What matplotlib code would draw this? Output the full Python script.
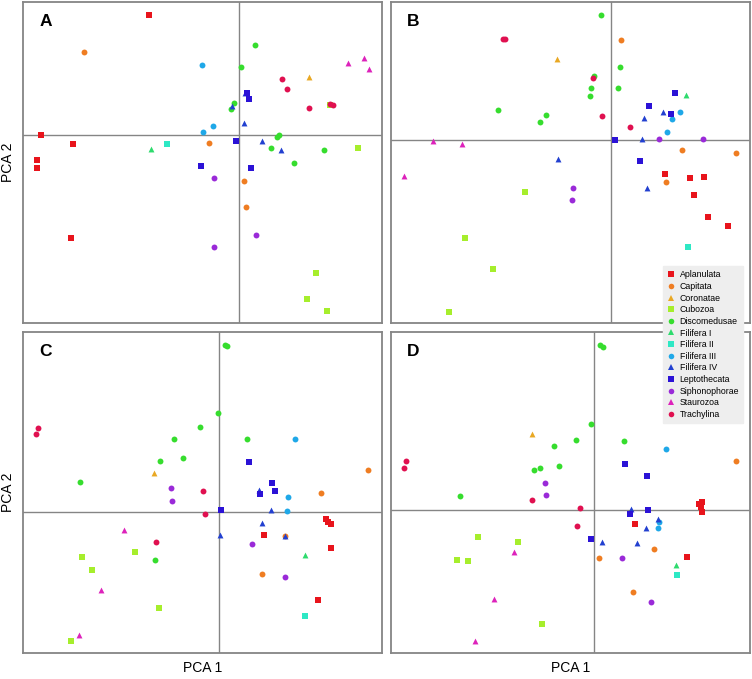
import matplotlib
matplotlib.use("Agg")
import matplotlib.pyplot as plt
from matplotlib.lines import Line2D

plt.rcParams["font.family"] = ["Liberation Sans", "DejaVu Sans"]

# species, legend order
GROUPS = ["Aplanulata", "Capitata", "Coronatae", "Cubozoa", "Discomedusae",
          "Filifera I", "Filifera II", "Filifera III", "Filifera IV",
          "Leptothecata", "Siphonophorae", "Staurozoa", "Trachylina"]
COLORS = ["#e8141c", "#ef7d22", "#e9a823", "#a6ee2c", "#36dd2e",
          "#2edb6d", "#2ee8c4", "#1fa8e8", "#2240d0",
          "#2b12d6", "#9a2ad8", "#dd22bb", "#e01050"]
MARKERS = ["s", "o", "^", "s", "o", "^", "s", "o", "^", "s", "o", "^", "o"]

# PCA scores per panel: group -> list of (PCA1, PCA2)
PANEL_A = {
    "Aplanulata": [(-1.81, 2.41), (-3.98, 0.00), (-3.33, -0.17), (-4.06, -0.49), (-4.05, -0.66), (-3.37, -2.05)],
    "Capitata": [(-3.10, 1.67), (-0.60, -0.15), (0.09, -0.92), (0.13, -1.43)],
    "Coronatae": [(1.39, 1.17)],
    "Cubozoa": [(1.81, 0.61), (2.37, -0.25), (1.53, -2.76), (1.35, -3.27), (1.75, -3.52)],
    "Discomedusae": [(0.32, 1.80), (0.03, 1.36), (-0.10, 0.65), (-0.16, 0.53), (0.75, -0.03),
                     (0.80, 0.01), (0.63, -0.26), (1.69, -0.29), (1.10, -0.55)],
    "Filifera I": [(-1.77, -0.28)],
    "Filifera II": [(-1.44, -0.17)],
    "Filifera III": [(-0.75, 1.40), (-0.53, 0.19), (-0.73, 0.07)],
    "Filifera IV": [(0.11, 0.85), (-0.15, 0.59), (0.09, 0.25), (0.46, -0.11), (0.83, -0.29)],
    "Leptothecata": [(0.15, 0.85), (0.20, 0.73), (-0.07, -0.11), (-0.76, -0.61), (0.23, -0.66)],
    "Siphonophorae": [(-0.50, -0.85), (0.33, -1.99), (-0.51, -2.23)],
    "Staurozoa": [(2.17, 1.45), (2.49, 1.55), (2.59, 1.32)],
    "Trachylina": [(0.86, 1.13), (0.95, 0.92), (1.39, 0.54), (1.82, 0.63), (1.87, 0.61)],
}

PANEL_B = {
    "Aplanulata": [(1.09, -0.67), (1.59, -0.75), (1.87, -0.74), (1.67, -1.10), (1.95, -1.53), (2.34, -1.71)],
    "Capitata": [(0.21, 2.01), (1.43, -0.19), (2.51, -0.26), (1.10, -0.83)],
    "Coronatae": [(-1.08, 1.62)],
    "Cubozoa": [(-1.71, -1.03), (-2.92, -1.96), (-2.35, -2.58), (-3.23, -3.43)],
    "Discomedusae": [(-0.20, 2.51), (0.19, 1.46), (-0.33, 1.29), (-0.40, 1.04), (0.15, 1.05),
                     (-0.42, 0.88), (-2.26, 0.60), (-1.30, 0.51), (-1.41, 0.37)],
    "Filifera I": [(1.50, 0.90)],
    "Filifera II": [(1.55, -2.14)],
    "Filifera III": [(1.39, 0.57), (1.22, 0.42), (1.13, 0.17)],
    "Filifera IV": [(1.05, 0.56), (0.66, 0.44), (0.63, 0.02), (0.72, -0.95), (-1.05, -0.38)],
    "Leptothecata": [(1.29, 0.95), (0.77, 0.69), (1.21, 0.52), (0.08, 0.01), (0.59, -0.41)],
    "Siphonophorae": [(0.96, 0.02), (1.84, 0.03), (-0.75, -0.95), (-0.78, -1.19)],
    "Staurozoa": [(-3.55, -0.02), (-2.98, -0.07), (-4.13, -0.71)],
    "Trachylina": [(-2.15, 2.03), (-2.12, 2.02), (-0.35, 1.24), (-0.18, 0.49), (0.39, 0.26)],
}

PANEL_C = {
    "Aplanulata": [(2.15, -0.14), (2.19, -0.21), (2.25, -0.25), (0.91, -0.47), (2.25, -0.72), (1.98, -1.77)],
    "Capitata": [(2.99, 0.84), (2.05, 0.37), (1.32, -0.49), (0.87, -1.25)],
    "Coronatae": [(-1.29, 0.77)],
    "Cubozoa": [(-1.67, -0.81), (-2.74, -0.90), (-2.54, -1.17), (-1.20, -1.93), (-2.95, -2.59)],
    "Discomedusae": [(0.12, 3.34), (0.17, 3.31), (-0.02, 1.98), (-0.38, 1.70), (-0.90, 1.45),
                     (0.57, 1.45), (-0.71, 1.07), (-1.18, 1.01), (-2.78, 0.60), (-1.28, -0.97)],
    "Filifera I": [(1.73, -0.87)],
    "Filifera II": [(1.73, -2.08)],
    "Filifera III": [(1.52, 1.46), (1.39, 0.29), (1.37, 0.01)],
    "Filifera IV": [(0.81, 0.43), (1.05, 0.04), (0.87, -0.22), (0.03, -0.47), (1.32, -0.49)],
    "Leptothecata": [(0.61, 0.99), (1.06, 0.57), (1.13, 0.41), (0.82, 0.36), (0.05, 0.03)],
    "Siphonophorae": [(-0.96, 0.47), (-0.93, 0.21), (0.67, -0.65), (1.32, -1.30)],
    "Staurozoa": [(-1.90, -0.36), (-2.36, -1.57), (-2.79, -2.47)],
    "Trachylina": [(-3.63, 1.67), (-3.67, 1.55), (-0.31, 0.42), (-0.27, -0.04), (-1.25, -0.61)],
}

PANEL_D = {
    "Aplanulata": [(2.09, 0.12), (2.16, 0.16), (2.14, 0.06), (2.15, -0.03), (0.81, -0.27), (1.85, -0.93)],
    "Capitata": [(2.84, 0.98), (1.20, -0.78), (0.10, -0.95), (0.77, -1.63)],
    "Coronatae": [(-1.24, 1.53)],
    "Cubozoa": [(-2.33, -0.54), (-1.53, -0.64), (-2.74, -0.99), (-2.53, -1.01), (-1.04, -2.28)],
    "Discomedusae": [(0.11, 3.31), (0.17, 3.26), (-0.06, 1.72), (-0.37, 1.41), (0.59, 1.39),
                     (-0.80, 1.29), (-0.70, 0.89), (-1.08, 0.85), (-1.20, 0.80), (-2.69, 0.29)],
    "Filifera I": [(1.64, -1.09)],
    "Filifera II": [(1.66, -1.30)],
    "Filifera III": [(1.43, 1.23), (1.29, -0.24), (1.28, -0.35)],
    "Filifera IV": [(0.73, 0.02), (1.27, -0.17), (1.03, -0.35), (0.16, -0.64), (0.86, -0.65)],
    "Leptothecata": [(0.61, 0.93), (1.06, 0.68), (0.72, -0.07), (1.07, 0.01), (-0.06, -0.57)],
    "Siphonophorae": [(-0.99, 0.55), (-0.96, 0.31), (0.55, -0.95), (1.14, -1.83)],
    "Staurozoa": [(-1.61, -0.83), (-2.01, -1.77), (-2.39, -2.61)],
    "Trachylina": [(-3.78, 0.99), (-3.81, 0.85), (-1.25, 0.20), (-0.29, 0.04), (-0.34, -0.32)],
}

PANELS = [("A", PANEL_A), ("B", PANEL_B), ("C", PANEL_C), ("D", PANEL_D)]

# axes rectangles (figure fraction) and axis limits
RECTS = {
    "A": [0.0306, 0.5243, 0.4778, 0.4728],
    "B": [0.5200, 0.5243, 0.4774, 0.4728],
    "C": [0.0306, 0.0383, 0.4778, 0.4728],
    "D": [0.5200, 0.0383, 0.4774, 0.4728],
}
LIMITS = {
    "A": ((-4.33, 2.86), (-3.75, 2.67)),
    "B": ((-4.39, 2.79), (-3.65, 2.77)),
    "C": ((-3.92, 3.27), (-2.82, 3.60)),
    "D": ((-4.07, 3.12), (-2.85, 3.57)),
}

FRAME = "#858585"


def main():
    fig = plt.figure(figsize=(7.52, 6.79), dpi=100)

    for letter, data in PANELS:
        ax = fig.add_axes(RECTS[letter])
        ax.axhline(0, color=FRAME, lw=1.0, zorder=1)
        ax.axvline(0, color=FRAME, lw=1.0, zorder=1)
        for name, color, marker in zip(GROUPS, COLORS, MARKERS):
            pts = data.get(name, [])
            if not pts:
                continue
            xs = [p[0] for p in pts]
            ys = [p[1] for p in pts]
            ax.scatter(xs, ys, s=18, c=color, marker=marker, linewidths=0, zorder=3)
        ax.set_xlim(*LIMITS[letter][0])
        ax.set_ylim(*LIMITS[letter][1])
        ax.set_xticks([])
        ax.set_yticks([])
        for sp in ax.spines.values():
            sp.set_color(FRAME)
            sp.set_linewidth(1.3)
        ax.text(0.045, 0.94, letter, transform=ax.transAxes, fontsize=12.5,
                fontweight="bold", ha="left", va="center")

    fig.text(0.011, 0.761, "PCA 2", rotation=90, ha="center", va="center", fontsize=10)
    fig.text(0.011, 0.275, "PCA 2", rotation=90, ha="center", va="center", fontsize=10)
    fig.text(0.269, 0.016, "PCA 1", ha="center", va="center", fontsize=10)
    fig.text(0.759, 0.016, "PCA 1", ha="center", va="center", fontsize=10)

    handles = [Line2D([], [], ls="none", marker=m, color=c, markersize=4,
                      markeredgewidth=0)
               for c, m in zip(COLORS, MARKERS)]
    leg = fig.legend(handles, GROUPS, loc="upper left",
                     bbox_to_anchor=(0.8816, 0.6082), borderaxespad=0,
                     fontsize=6.3, frameon=True, fancybox=False,
                     handlelength=0.8, handletextpad=0.6, labelspacing=0.3,
                     borderpad=0.5)
    leg.get_frame().set_facecolor("#eeeeee")
    leg.get_frame().set_edgecolor("#eeeeee")
    leg.get_frame().set_alpha(1)
    leg.set_zorder(10)

    fig.savefig("out.png", dpi=100)
    plt.close(fig)


if __name__ == "__main__":
    main()
